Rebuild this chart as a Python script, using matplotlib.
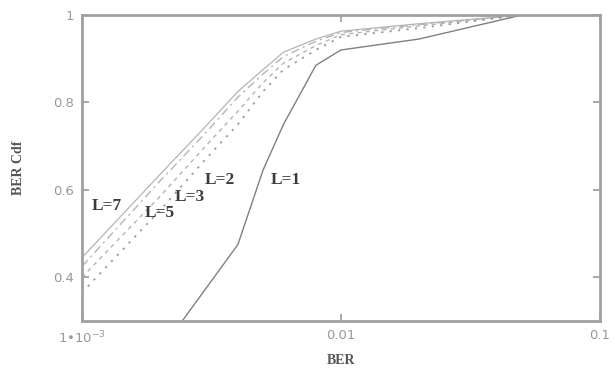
import numpy as np
import matplotlib
matplotlib.use("Agg")
import matplotlib.pyplot as plt

# BER grid shared by the multi-branch curves
ber = [1e-3, 2e-3, 3e-3, 4e-3, 5e-3, 6e-3, 8e-3, 1e-2, 2e-2, 5e-2]
cdf_L7 = [0.445, 0.635, 0.745, 0.825, 0.875, 0.915, 0.945, 0.963, 0.980, 1.0]
cdf_L5 = [0.425, 0.620, 0.730, 0.812, 0.865, 0.905, 0.940, 0.960, 0.978, 1.0]
cdf_L3 = [0.400, 0.585, 0.700, 0.780, 0.845, 0.890, 0.930, 0.955, 0.975, 1.0]
cdf_L2 = [0.365, 0.553, 0.670, 0.750, 0.825, 0.875, 0.920, 0.950, 0.970, 1.0]

# single branch
ber_L1 = [2e-3, 4e-3, 5e-3, 6e-3, 8e-3, 1e-2, 2e-2, 5e-2]
cdf_L1 = [0.23, 0.475, 0.645, 0.75, 0.885, 0.92, 0.945, 1.0]

labels = ["L=7", "L=5", "L=3", "L=2", "L=1"]
label_x = [1.25e-3, 2.0e-3, 2.6e-3, 3.4e-3, 6.1e-3]
label_y = [0.564, 0.546, 0.584, 0.623, 0.623]

fig = plt.figure(figsize=(6.15, 3.73), dpi=100)
ax = fig.add_axes([0.1333, 0.1394, 0.8423, 0.8204])

light = "#b4b4b4"
ax.plot(ber, cdf_L7, color=light, lw=0.9, ls="-")
ax.plot(ber, cdf_L5, color=light, lw=1.0, ls=(0, (6, 3, 1.5, 3)))
ax.plot(ber, cdf_L3, color=light, lw=1.0, ls=(0, (3, 3)))
ax.plot(ber, cdf_L2, color="#999999", lw=1.3, ls=(0, (1.2, 3.5)))
ax.plot(ber_L1, cdf_L1, color="#808080", lw=1.0, ls="-")

for t, x, y in zip(labels, label_x, label_y):
    ax.text(x, y, t, family="Liberation Serif", fontweight="bold", fontsize=12.5,
            color="#3a3a3a", ha="center", va="center")

ax.set_xscale("log")
ax.set_xlim(1e-3, 0.1)
ax.set_ylim(0.3, 1.0)
ax.set_xticks([1e-3, 1e-2, 1e-1])
ax.set_xticklabels(["1\u2022$10^{-3}$", "0.01", "0.1"])
ax.set_yticks([0.4, 0.6, 0.8, 1.0])
ax.set_yticklabels(["0.4", "0.6", "0.8", "1"])
ax.xaxis.set_minor_locator(matplotlib.ticker.NullLocator())

ax.tick_params(direction="in", top=True, right=True, length=5, width=1.2,
               color="#999999", labelcolor="#999999", labelsize=9.5, pad=6)
for s in ax.spines.values():
    s.set_color("#a0a0a0")
    s.set_linewidth(2)

ax.set_xlabel("BER", family="Liberation Serif", fontweight="bold", fontsize=10,
              color="#555555", labelpad=6)
ax.set_ylabel("BER Cdf", family="Liberation Serif", fontweight="bold", fontsize=10,
              color="#555555", labelpad=20)

fig.savefig("out.png", dpi=100)
